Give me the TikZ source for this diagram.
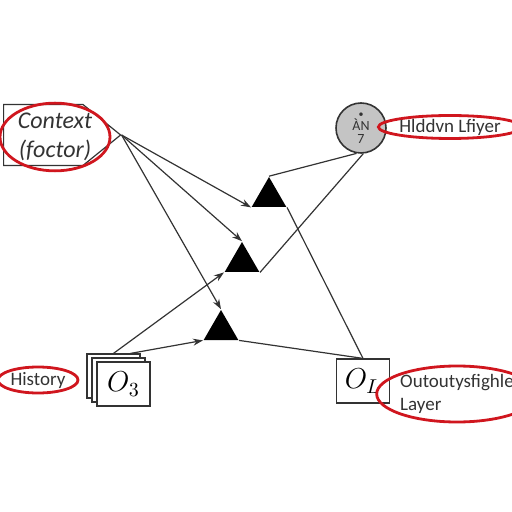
\documentclass[tikz,border=0pt]{standalone}
\usepackage{fontspec}
\setmainfont{Carlito}
\usetikzlibrary{arrows.meta,positioning,calc,shapes.geometric,shapes.symbols,shadows}
\definecolor{ink}{HTML}{333333}
\definecolor{mark}{HTML}{D0161E}
\definecolor{nodegray}{HTML}{C4C4C4}
\tikzset{
  >={Stealth[length=5pt,width=3.5pt]},
  tri/.style={regular polygon,regular polygon sides=3,fill=black,inner sep=0pt,minimum size=20pt},
  obox/.style={draw=ink,fill=white,line width=0.6pt,inner sep=0pt,font=\Large},
  ctxbox/.style={signal,signal to=east,signal pointer angle=78,draw=ink,line width=0.6pt,minimum width=58.5pt,minimum height=30.5pt,inner sep=0pt},
  ring/.style={draw=mark,line width=1.4pt,ellipse,inner sep=0pt,text=ink},
  lab/.style={font=\fontsize{9.5}{11.5}\selectfont},
  wire/.style={draw=ink,line width=0.6pt},
  arr/.style={wire,->},
}
\begin{document}
\begin{tikzpicture}[x=0.5pt,y=-0.5pt]
\useasboundingbox (0,0) rectangle (512,512);
% inputs
\node[ctxbox,anchor=west] (ctx) at (3,135) {};
\node[ring,minimum width=55pt,minimum height=30pt,align=center,font=\itshape\fontsize{12}{14.5}\selectfont] (ctxlab) at (55,137) {Context\\(foctor)};
\node[obox,minimum width=26.5pt,minimum height=22pt,double copy shadow={shadow xshift=-2.5pt,shadow yshift=2pt}] (hist) at (123.5,384) {$O_3$};
\node[ring,lab,minimum width=40pt,minimum height=13pt] (histlab) at (38,380) {History};
% units
\node[tri] (t1) at (269,197) {};
\node[tri] (t2) at (242,262) {};
\node[tri] (t3) at (221,330) {};
\node[circle,draw=ink,fill=nodegray,line width=0.8pt,minimum size=25pt,inner sep=0pt,align=center,font=\fontsize{7}{6.5}\selectfont,text=ink] (hid) at (361,128) {{\fontsize{5}{5}\selectfont\textbullet}\\ÀN\\7};
\node[ring,lab,minimum width=62pt,minimum height=11pt] (hidlab) at (450,127) {Hlddvn Lfiyer};
\node[obox,minimum width=26.5pt,minimum height=22pt] (out) at (363,381) {$O_L$};
\node[ring,lab,minimum width=75pt,minimum height=28pt,align=left] (outlab) at (457,394) {Outoutysfighle\\Layer};
% links
\coordinate (hback) at ($(hist.north)+(-10,-8)$);
\draw[arr] (ctx.east) -- (t1.corner 2);
\draw[arr] (ctx.east) -- (t2.corner 1);
\draw[arr] (ctx.east) -- (t3.corner 1);
\draw[arr] (hback) -- (t2.corner 2);
\draw[arr] ($(hback)+(17,0)$) -- (t3.corner 2);
\draw[wire] (t1.corner 1) -- (hid.-100);
\draw[wire] (t2.corner 3) -- (hid.-85);
\draw[wire] (t1.corner 3) -- (out.north);
\draw[wire] (t3.corner 3) -- (out.north);
\end{tikzpicture}
\end{document}
